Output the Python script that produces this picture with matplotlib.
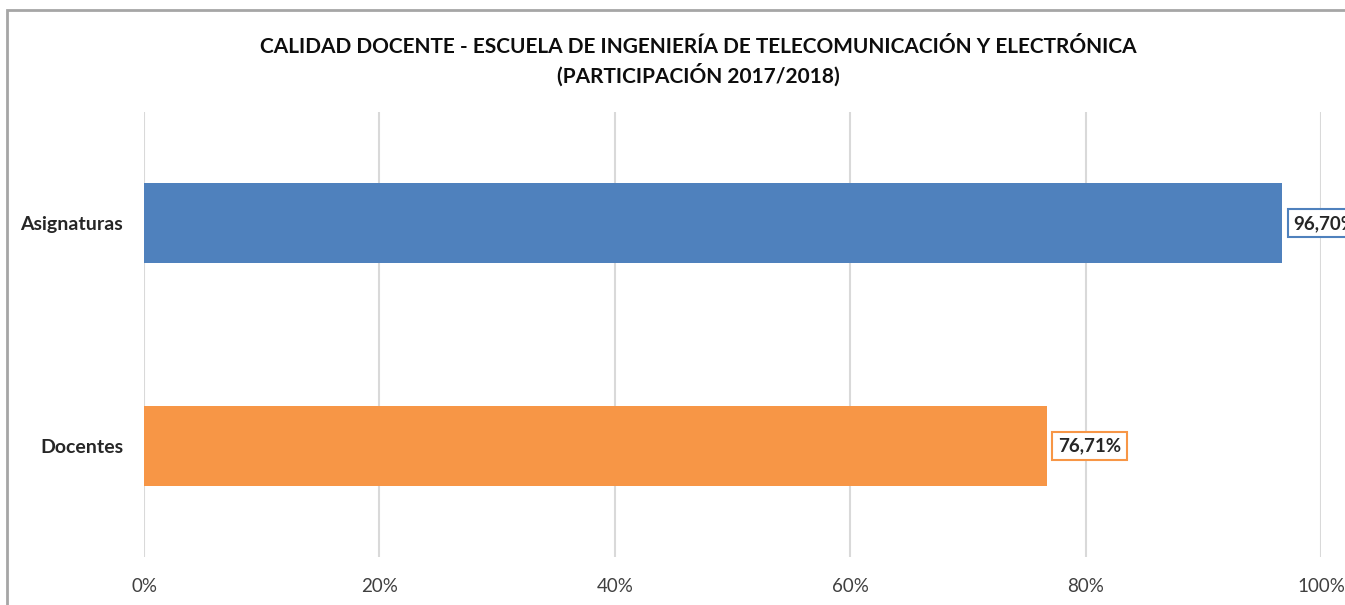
import matplotlib.pyplot as plt
from matplotlib.patches import Rectangle

# datos
categorias = ['Docentes', 'Asignaturas']
valores = [76.71, 96.70]
colores = ['#f79646', '#4f81bd']
etiquetas_x = ['0%', '20%', '40%', '60%', '80%', '100%']
titulo = 'CALIDAD DOCENTE - ESCUELA DE INGENIERÍA DE TELECOMUNICACIÓN Y ELECTRÓNICA\n(PARTICIPACIÓN 2017/2018)'

plt.rcParams['font.family'] = ['Lato', 'DejaVu Sans']

fig = plt.figure(figsize=(13.45, 6.05), dpi=100)
W, H = 1345, 605

# marco del grafico (recortado a la derecha y abajo)
fig.patches.append(Rectangle((7 / W, -0.05), 1.2, 1 - 10 / H + 0.05, transform=fig.transFigure,
                             fill=False, edgecolor='#a6a6a6', linewidth=2))

ax = fig.add_axes([144 / W, 1 - 557 / H, (1321 - 144) / W, (557 - 112) / H])

y = range(len(categorias))
ax.barh(y, valores, height=0.36, color=colores, zorder=3)

ax.set_xlim(0, 100)
ax.set_ylim(-0.5, 1.5)
ax.set_xticks([0, 20, 40, 60, 80, 100])
ax.set_xticklabels(etiquetas_x, fontsize=13.5, color='#404040')
ax.set_yticks(list(y))
ax.set_yticklabels(categorias, fontsize=14, fontweight='bold', color='#262626')
ax.tick_params(length=0)
ax.tick_params(axis='x', pad=15)
ax.tick_params(axis='y', pad=15)
ax.grid(axis='x', color='#d9d9d9', linewidth=1.5, zorder=0)
for s in ax.spines.values():
    s.set_visible(False)

# etiquetas de valores
for i, v in enumerate(valores):
    txt = f'{v:.2f}%'.replace('.', ',')
    ax.annotate(txt, (v, i), xytext=(8, 0), textcoords='offset points',
                va='center', ha='left', fontsize=13.5, fontweight='bold', color='#262626',
                bbox=dict(boxstyle='square,pad=0.3', facecolor='white', edgecolor=colores[i], linewidth=1.5),
                annotation_clip=False, zorder=5)

fig.text(698 / W, 1 - 62 / H, titulo, ha='center', va='center', fontsize=15, fontweight='bold',
         color='#0d0d0d', linespacing=1.3)

fig.savefig('out.png', dpi=100)
